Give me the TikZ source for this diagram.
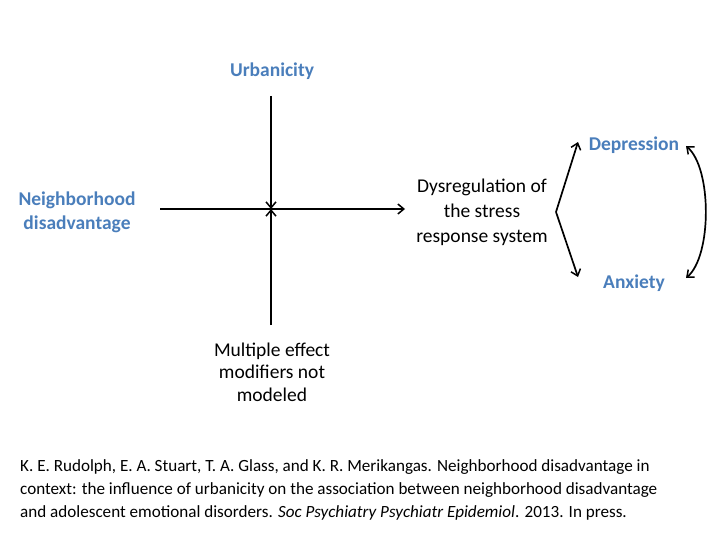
\documentclass[tikz,border=0pt]{standalone}
\usepackage{fontspec}
\setmainfont{Carlito}
\usetikzlibrary{arrows.meta}
\definecolor{labelblue}{HTML}{4A7EBB}
\tikzset{
  lbl/.style={font=\fontsize{19.5}{24}\selectfont\bfseries, text=labelblue, align=center, inner sep=0pt},
  txt/.style={font=\fontsize{19.5}{25}\selectfont, align=center, inner sep=0pt},
  barb/.tip={Straight Barb[length=6pt,width=10pt,line width=1.5pt]},
  link/.style={line width=1.7pt, -barb},
}
\begin{document}
\begin{tikzpicture}[x=1pt,y=-1pt]
  \useasboundingbox (0,0) rectangle (720,540);
  % labelled factors
  \node[lbl] (urb) at (272,71) {Urbanicity};
  \node[lbl] (nd) at (77,212) {Neighborhood\\disadvantage};
  \node[lbl] (dep) at (634,145) {Depression};
  \node[lbl] (anx) at (634,283) {Anxiety};
  \node[txt] (dys) at (482,212) {Dysregulation of\\the stress\\response system};
  \node[txt, font=\fontsize{19.5}{22.5}\selectfont] (mult) at (272,372) {Multiple effect\\modifiers not\\modeled};
  % path ends
  \coordinate (hs) at (160,209);
  \coordinate (he) at (405,209);
  \coordinate (vt) at (271,96);
  \coordinate (vc) at (271,209);
  \coordinate (vb) at (271,325);
  \coordinate (fork) at (556,212);
  \coordinate (ft) at (578,142);
  \coordinate (fb) at (578,277);
  \coordinate (bt) at (686,146);
  \coordinate (bb) at (686,278);
  % connectors
  \draw[link] (hs) -- (he);
  \draw[link] (vt) -- (vc);
  \draw[link] (vb) -- (vc);
  \draw[link] (fork) -- (ft);
  \draw[link] (fork) -- (fb);
  \draw[link, barb-barb] (bt) .. controls (712,168) and (712,256) .. (bb);
  % reference
  \node[anchor=west, align=left, inner sep=0pt, font=\fontsize{17.1}{23}\selectfont] (ref) at (20,490)
    {K. E. Rudolph, E. A. Stuart, T. A. Glass, and K. R. Merikangas. Neighborhood disadvantage in\\
     context: the influence of urbanicity on the association between neighborhood disadvantage\\
     and adolescent emotional disorders. \textit{Soc Psychiatry Psychiatr Epidemiol}. 2013. In press.};
\end{tikzpicture}
\end{document}
